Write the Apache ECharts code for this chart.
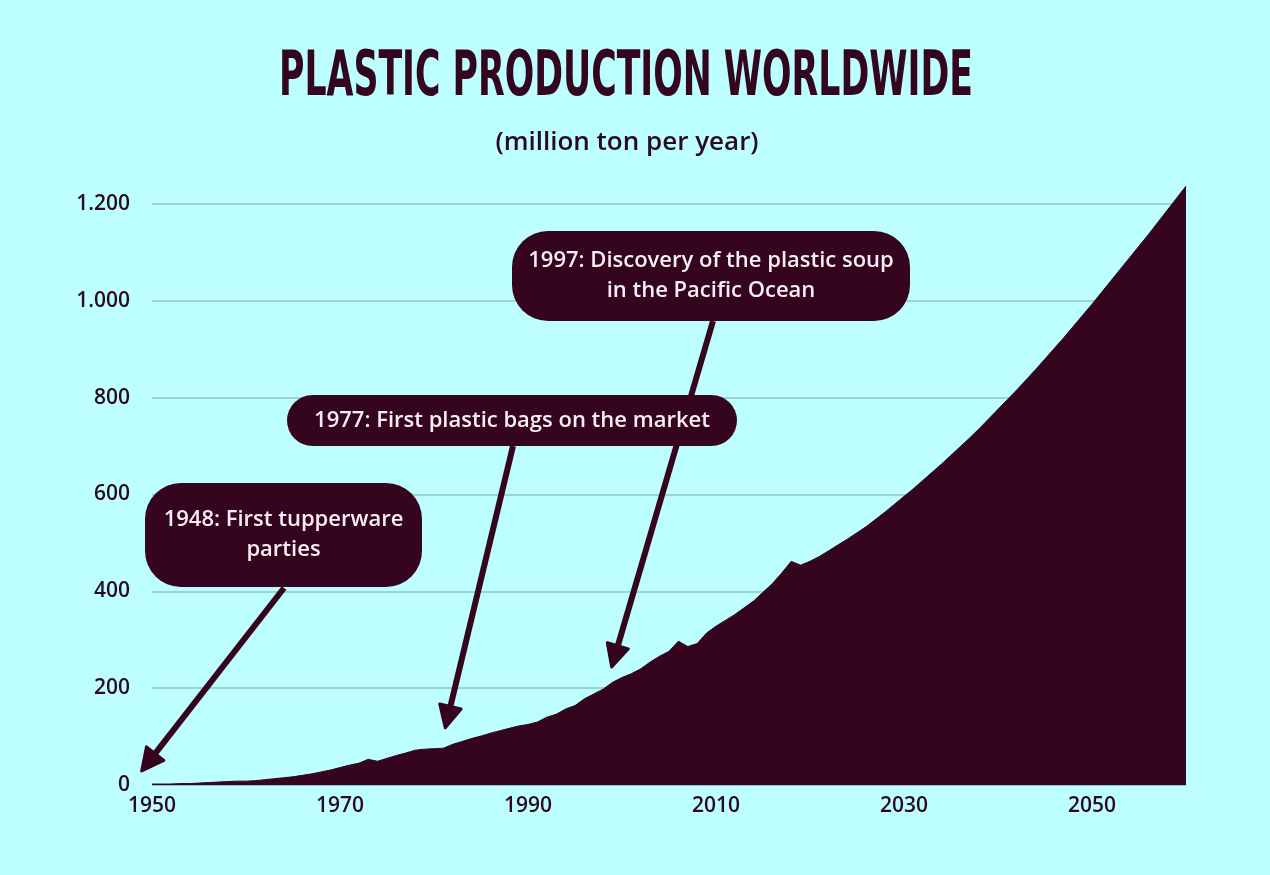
<!DOCTYPE html>
<html>
<head>
<meta charset="utf-8">
<title>Plastic production worldwide</title>
<script src="https://cdn.jsdelivr.net/npm/echarts@6/dist/echarts.min.js"></script>
<style>
  html, body { margin: 0; padding: 0; background: #bdffff; }
  #chart { width: 1270px; height: 875px; }
</style>
</head>
<body>
<div id="chart"></div>
<script>
// years on the x axis
const years = [
  1950, 1951, 1952, 1953, 1954, 1955, 1956, 1957, 1958, 1959,
  1960, 1961, 1962, 1963, 1964, 1965, 1966, 1967, 1968, 1969,
  1970, 1971, 1972, 1973, 1974, 1975, 1976, 1977, 1978, 1979,
  1980, 1981, 1982, 1983, 1984, 1985, 1986, 1987, 1988, 1989,
  1990, 1991, 1992, 1993, 1994, 1995, 1996, 1997, 1998, 1999,
  2000, 2001, 2002, 2003, 2004, 2005, 2006, 2007, 2008, 2009,
  2010, 2011, 2012, 2013, 2014, 2015, 2016, 2017, 2018, 2019,
  2020, 2021, 2022, 2023, 2024, 2025, 2026, 2027, 2028, 2029,
  2030, 2031, 2032, 2033, 2034, 2035, 2036, 2037, 2038, 2039,
  2040, 2041, 2042, 2043, 2044, 2045, 2046, 2047, 2048, 2049,
  2050, 2051, 2052, 2053, 2054, 2055, 2056, 2057, 2058, 2059,
  2060
];

// million ton per year
const production = [
  2, 2, 2, 3, 3, 4, 5, 6, 7, 8,
  8, 9, 11, 13, 15, 17, 20, 23, 27, 31,
  36, 41, 45, 53, 49, 55, 61, 66, 72, 74,
  75, 76, 84, 90, 96, 101, 107, 112, 117, 122,
  125, 130, 140, 146, 157, 164, 178, 188, 198, 212,
  222, 230, 240, 254, 266, 276, 297, 286, 292, 314,
  328, 340, 352, 366, 380, 398, 416, 438, 462, 454,
  462, 472, 484, 496, 508, 521, 534, 549, 564, 580,
  596, 612, 629, 646, 663, 681, 699, 717, 736, 756,
  776, 796, 816, 837, 858, 880, 902, 924, 947, 970,
  993, 1017, 1041, 1065, 1089, 1113, 1137, 1162, 1187, 1212,
  1237
];

const xTicks = [1950, 1970, 1990, 2010, 2030, 2050];
const yTicks = [0, 200, 400, 600, 800, 1000, 1200];

// annotation texts and where their arrows point (year, value)
const noteTexts = [
  '1948: First tupperware\nparties',
  '1977: First plastic bags on the market',
  '1997: Discovery of the plastic soup\nin the Pacific Ocean'
];
const noteTips = [[1948.9, 29], [1981.2, 118], [1998.9, 244]];

const dark = '#35041f';
const ink = '#2b0a1f';

const chart = echarts.init(document.getElementById('chart'));

const seriesData = years.map((y, i) => [y, production[i]]);

chart.setOption({
  backgroundColor: '#bdffff',
  animation: false,
  grid: { left: 152, right: 84, top: 204, bottom: 90 },
  xAxis: {
    type: 'value',
    min: xTicks[0],
    max: 2060,
    interval: 20,
    axisLine: { show: true, lineStyle: { color: '#8fbcbc', width: 1 } },
    axisTick: { show: false },
    splitLine: { show: false },
    axisLabel: {
      margin: 11,
      color: ink,
      fontFamily: 'Open Sans',
      fontWeight: 600,
      fontSize: 21,
      formatter: v => (xTicks.indexOf(v) >= 0 ? String(v) : '')
    }
  },
  yAxis: {
    type: 'value',
    min: yTicks[0],
    max: yTicks[yTicks.length - 1],
    interval: 200,
    axisLine: { show: false },
    axisTick: { show: false },
    splitLine: { lineStyle: { color: '#93c4c4', width: 1.5 } },
    axisLabel: {
      margin: 22,
      color: ink,
      fontFamily: 'Open Sans',
      fontWeight: 600,
      fontSize: 21,
      formatter: v => String(v).replace(/\B(?=(\d{3})+(?!\d))/g, '.')
    }
  },
  series: [{
    type: 'line',
    data: seriesData,
    clip: false,
    symbol: 'none',
    lineStyle: { color: dark, width: 1 },
    areaStyle: { color: dark, opacity: 1 },
    z: 3
  }]
});

// title sizing: squeeze a bold condensed face to the reference width
const titleText = 'PLASTIC PRODUCTION WORLDWIDE';
const titleFont = 'bold 62px "DejaVu Sans Condensed", "Liberation Sans Narrow", sans-serif';
const ctx = document.createElement('canvas').getContext('2d');
ctx.font = titleFont;
const titleScale = 694 / ctx.measureText(titleText).width;

// note boxes [x, y, w, h] in px
const noteBoxes = [[145, 483, 277, 104], [287, 395, 450, 51], [512, 231, 398, 90]];
const noteFrom = [[284, 588], [513, 446], [713, 321]];

function arrow(from, tip) {
  const dx = tip[0] - from[0], dy = tip[1] - from[1];
  const len = Math.sqrt(dx * dx + dy * dy);
  const ux = dx / len, uy = dy / len;
  const L = 22, W = 22;
  const bx = tip[0] - ux * L, by = tip[1] - uy * L;
  return [
    {
      type: 'line',
      shape: { x1: from[0], y1: from[1], x2: bx + ux * 2, y2: by + uy * 2 },
      style: { stroke: dark, lineWidth: 6 },
      z: 10
    },
    {
      type: 'polygon',
      shape: { points: [tip, [bx - uy * W / 2, by + ux * W / 2], [bx + uy * W / 2, by - ux * W / 2]] },
      style: { fill: dark, stroke: dark, lineWidth: 3, lineJoin: 'round' },
      z: 10
    }
  ];
}

const graphics = [
  {
    type: 'text', x: 626, y: 79, scaleX: titleScale,
    style: { text: titleText, font: titleFont, fill: '#33051f', align: 'center', verticalAlign: 'middle' },
    z: 20
  },
  {
    type: 'text', x: 627, y: 143,
    style: { text: '(million ton per year)', font: '600 26px "Open Sans", sans-serif', fill: ink, align: 'center', verticalAlign: 'middle' },
    z: 20
  }
];

noteTexts.forEach((txt, i) => {
  const tip = chart.convertToPixel({ gridIndex: 0 }, noteTips[i]);
  arrow(noteFrom[i], tip).forEach(g => graphics.push(g));
});

noteTexts.forEach((txt, i) => {
  const b = noteBoxes[i];
  graphics.push({
    type: 'rect',
    shape: { x: b[0], y: b[1], width: b[2], height: b[3], r: Math.min(36, b[3] / 2) },
    style: { fill: dark },
    z: 11
  });
  graphics.push({
    type: 'text',
    x: b[0] + b[2] / 2, y: b[1] + b[3] / 2,
    style: {
      text: txt, fill: '#f7eef3', align: 'center', verticalAlign: 'middle',
      font: '600 22px "Open Sans", sans-serif', lineHeight: 30
    },
    z: 12
  });
});

chart.setOption({ graphic: graphics });
</script>
</body>
</html>
